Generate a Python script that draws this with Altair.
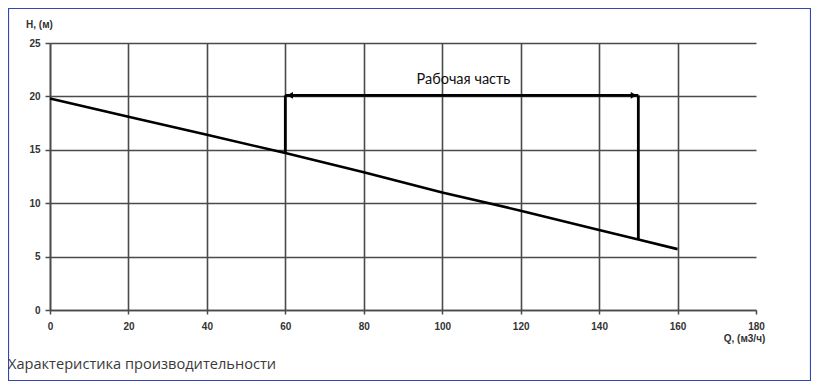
import altair as alt
import pandas as pd

# ---- data ----
q_curve = [0, 20, 40, 60, 80, 100, 120, 140, 150, 160]
h_curve = [19.8, 18.1, 16.4, 14.7, 12.9, 11.0, 9.3, 7.5, 6.6, 5.7]
q_work = [60, 150]
h_work_low = [14.7, 6.6]
h_work_top = 20.1
work_label = "Рабочая часть"
work_label_q = 105.4
work_label_h = 21.5
x_ticks = [0, 20, 40, 60, 80, 100, 120, 140, 160, 180]
y_ticks = [0, 5, 10, 15, 20, 25]
x_title = "Q, (м3/ч)"
y_title = "H, (м)"
caption = "Характеристика производительности"

W, H = 706, 267
GRID = "#4a4a4a"

curve_df = pd.DataFrame({"q": q_curve, "h": h_curve})
vert_df = pd.DataFrame({"q": q_work, "h": h_work_low, "h2": [h_work_top] * len(q_work)})
arrow_df = pd.DataFrame({"q": [q_work[0]], "q2": [q_work[1]], "h": [h_work_top]})
head_df = pd.DataFrame({
    "q": [q_work[0] + 1.2, q_work[1] - 1.2],
    "h": [h_work_top, h_work_top],
    "shape": ["triangle-left", "triangle-right"],
})
label_df = pd.DataFrame({"q": [work_label_q], "h": [work_label_h], "t": [work_label]})
one = pd.DataFrame({"t": [caption]})

x_scale = alt.Scale(domain=[0, 180], nice=False, zero=False)
y_scale = alt.Scale(domain=[0, 25], nice=False, zero=False)

x_axis = alt.Axis(
    values=x_ticks, title=x_title, grid=True,
    gridColor=alt.condition(alt.datum.value == 180, alt.value("transparent"), alt.value(GRID)),
    gridWidth=1.6, domainColor=GRID, domainWidth=1.6, tickColor=GRID, tickWidth=1.5,
    tickSize=4, labelPadding=7, labelFont="Liberation Sans", labelFontWeight="bold",
    labelFontSize=10, labelColor="#333333", labelFlush=False,
    titleFont="Liberation Sans", titleFontWeight="bold", titleFontSize=10, titleColor="#333333",
    titleAnchor="start", titleAlign="center", titleX=694, titleY=28, titleBaseline="middle",
)
y_axis = alt.Axis(
    values=y_ticks, title=y_title, grid=True, gridColor=GRID, gridWidth=1.6,
    domainColor=GRID, domainWidth=1.6, tickColor=GRID, tickWidth=1.5,
    tickSize=5, labelPadding=5, labelFont="Liberation Sans", labelFontWeight="bold",
    labelFontSize=10, labelColor="#333333", labelFlush=False,
    titleFont="Liberation Sans", titleFontWeight="bold", titleFontSize=10, titleColor="#333333",
    titleAngle=0, titleAlign="center", titleX=-11, titleY=-19, titleBaseline="middle",
)

curve = alt.Chart(curve_df).mark_line(color="black", strokeWidth=2.6).encode(
    x=alt.X("q:Q", scale=x_scale, axis=x_axis),
    y=alt.Y("h:Q", scale=y_scale, axis=y_axis),
)

verts = alt.Chart(vert_df).mark_rule(color="black", strokeWidth=2.8).encode(
    x="q:Q", y="h:Q", y2="h2:Q"
)

arrow = alt.Chart(arrow_df).mark_rule(color="black", strokeWidth=2.6).encode(
    x="q:Q", x2="q2:Q", y="h:Q"
)

heads = alt.Chart(head_df).mark_point(filled=True, color="black", opacity=1, size=45).encode(
    x="q:Q", y="h:Q", shape=alt.Shape("shape:N", scale=None, legend=None)
)

label = alt.Chart(label_df).mark_text(
    font="Lato", fontSize=14.5, color="#111111", align="center", baseline="middle"
).encode(x="q:Q", y="h:Q", text="t:N")

cap = alt.Chart(one).mark_text(
    font="Open Sans", fontSize=14.6, color="#3a3a3a", align="left", baseline="middle"
).encode(x=alt.value(-42), y=alt.value(322), text="t:N")

border = alt.Chart(one).mark_rect(
    filled=False, stroke="#3446b5", strokeWidth=1.2
).encode(x=alt.value(-41.5), x2=alt.value(W + 54.5), y=alt.value(-34.5), y2=alt.value(H + 70.5))

chart = alt.layer(border, curve, verts, arrow, heads, label, cap).properties(
    width=W, height=H,
    autosize=alt.AutoSizeParams(type="none"),
    padding={"left": 42, "top": 35, "right": 55, "bottom": 71},
    background="white",
).configure_view(strokeWidth=0)

chart.save("out.html", embed_options={"renderer": "svg", "actions": False})
